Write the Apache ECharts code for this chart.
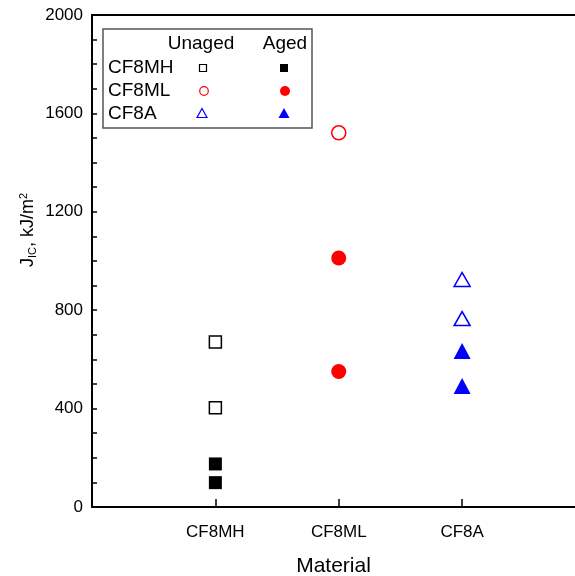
<!DOCTYPE html>
<html>
<head>
<meta charset="utf-8">
<script src="https://cdn.jsdelivr.net/npm/echarts@6/dist/echarts.min.js"></script>
<style>
  html, body { margin: 0; padding: 0; background: #fff; }
  #chart { width: 575px; height: 576px; }
</style>
</head>
<body>
<div id="chart"></div>
<script>
// Materials, placed at x = 1, 2, 3 on the category scale
const materials = ['CF8MH', 'CF8ML', 'CF8A'];

// J_IC values (kJ/m^2) per material, unaged and aged
const cf8mhUnaged = [671, 403];
const cf8mhAged = [175, 99];
const cf8mlUnaged = [1521];
const cf8mlAged = [1012, 551];
const cf8aUnaged = [925, 766];
const cf8aAged = [634, 492];

const yTicks = [0, 400, 800, 1200, 1600, 2000];

const FONT = 'Liberation Sans, Arial, Helvetica, sans-serif';

function pts(xIndex, values) {
  return values.map(v => [xIndex, v]);
}

const chart = echarts.init(document.getElementById('chart'), null, { renderer: 'canvas' });

const series = [
  { name: 'CF8MH Unaged', data: pts(1, cf8mhUnaged), symbol: 'rect', symbolSize: 12,
    itemStyle: { color: '#fff', borderColor: '#000', borderWidth: 1.5, opacity: 1 } },
  { name: 'CF8MH Aged', data: pts(1, cf8mhAged), symbol: 'rect', symbolSize: 13,
    itemStyle: { color: '#000', opacity: 1 } },
  { name: 'CF8ML Unaged', data: pts(2, cf8mlUnaged), symbol: 'circle', symbolSize: 14,
    itemStyle: { color: '#fff', borderColor: '#ff0000', borderWidth: 1.5, opacity: 1 } },
  { name: 'CF8ML Aged', data: pts(2, cf8mlAged), symbol: 'circle', symbolSize: 15,
    itemStyle: { color: '#ff0000', opacity: 1 } },
  { name: 'CF8A Unaged', data: pts(3, cf8aUnaged), symbol: 'triangle', symbolSize: [16, 14],
    itemStyle: { color: '#fff', borderColor: '#0000ff', borderWidth: 1.5, opacity: 1 } },
  { name: 'CF8A Aged', data: pts(3, cf8aAged), symbol: 'triangle', symbolSize: [17, 16],
    itemStyle: { color: '#0000ff', opacity: 1 } }
].map(s => Object.assign({ type: 'scatter', xAxisIndex: 0, z: 3, emphasis: { disabled: true } }, s));

// Legend table drawn as graphics: header row, material rows, unaged/aged markers
const legendRows = [
  { label: materials[0], y: 68 },
  { label: materials[1], y: 91 },
  { label: materials[2], y: 114 }
];
const legendFont = { fontFamily: FONT, fontSize: 19, fill: '#000' };
const colUnaged = 203, colAged = 284;

const graphics = [
  { type: 'rect', shape: { x: 103, y: 29, width: 209, height: 99 },
    style: { fill: '#fff', stroke: '#555', lineWidth: 1.5 }, z: 10 },
  { type: 'text', x: colUnaged - 2, y: 44, z: 11,
    style: Object.assign({ text: 'Unaged', align: 'center', verticalAlign: 'middle' }, legendFont) },
  { type: 'text', x: colAged + 1, y: 44, z: 11,
    style: Object.assign({ text: 'Aged', align: 'center', verticalAlign: 'middle' }, legendFont) }
];
legendRows.forEach(r => {
  graphics.push({ type: 'text', x: 108, y: r.y, z: 11,
    style: Object.assign({ text: r.label, align: 'left', verticalAlign: 'middle' }, legendFont) });
});
graphics.push(
  // CF8MH markers
  { type: 'rect', z: 11, shape: { x: colUnaged - 3.5, y: 68 - 3.5, width: 7, height: 7 },
    style: { fill: '#fff', stroke: '#000', lineWidth: 1.2 } },
  { type: 'rect', z: 11, shape: { x: colAged - 4, y: 68 - 4, width: 8, height: 8 },
    style: { fill: '#000' } },
  // CF8ML markers
  { type: 'circle', z: 11, shape: { cx: colUnaged + 1, cy: 91, r: 4.3 },
    style: { fill: '#fff', stroke: '#ff0000', lineWidth: 1.2 } },
  { type: 'circle', z: 11, shape: { cx: colAged + 1, cy: 91, r: 5 },
    style: { fill: '#ff0000' } },
  // CF8A markers
  { type: 'polygon', z: 11, shape: { points: [[colUnaged - 1, 108.5], [colUnaged + 4, 117.5], [colUnaged - 6, 117.5]] },
    style: { fill: '#fff', stroke: '#0000ff', lineWidth: 1.2 } },
  { type: 'polygon', z: 11, shape: { points: [[colAged, 108], [colAged + 5.5, 118], [colAged - 5.5, 118]] },
    style: { fill: '#0000ff' } }
);

// Rotated y-axis title with subscript and superscript
graphics.push({
  type: 'text', x: 28, y: 230, rotation: Math.PI / 2, z: 11,
  style: {
    text: 'J{sub|IC}, kJ/m{sup|2}',
    align: 'center', verticalAlign: 'middle',
    fontFamily: FONT, fontSize: 18, fill: '#000',
    rich: {
      sub: { fontFamily: FONT, fontSize: 11, fill: '#000', padding: [9, 0, 0, 0] },
      sup: { fontFamily: FONT, fontSize: 11, fill: '#000', padding: [0, 0, 9, 0] }
    }
  }
});

// The x scale runs 0..4 with categories at 1..3; the plot frame is wider than
// the page, so the visible part ends a little before x = 4.
const xMaxVisible = 3.915;

chart.setOption({
  animation: false,
  backgroundColor: '#fff',
  grid: { left: 92, top: 15, bottom: 69, right: 0, show: false, outerBoundsMode: 'none', containLabel: false },
  xAxis: [{
    type: 'value', min: 0, max: xMaxVisible, interval: 1,
    name: 'Material', nameLocation: 'middle', nameGap: 49,
    nameTextStyle: { fontFamily: FONT, fontSize: 21, color: '#000' },
    axisLine: { show: true, lineStyle: { color: '#000', width: 2 } },
    axisTick: { show: true, inside: true, length: 8, lineStyle: { color: '#000', width: 1.5 } },
    axisLabel: {
      margin: 17, fontFamily: FONT, fontSize: 17, color: '#000',
      showMaxLabel: false,
      formatter: v => (Number.isInteger(v) && v >= 1 && v <= materials.length ? materials[v - 1] : '')
    },
    splitLine: { show: false }
  }, {
    // top frame line
    type: 'value', position: 'top', min: 0, max: xMaxVisible,
    axisLine: { show: true, lineStyle: { color: '#000', width: 2 } },
    axisTick: { show: false }, axisLabel: { show: false }, splitLine: { show: false }
  }],
  yAxis: {
    type: 'value', min: yTicks[0], max: yTicks[yTicks.length - 1], interval: 400,
    axisLine: { show: true, lineStyle: { color: '#000', width: 2 } },
    axisTick: { show: true, inside: true, length: 5, lineStyle: { color: '#000', width: 1.5 } },
    minorTick: { show: true, splitNumber: 4, length: 5, lineStyle: { color: '#000', width: 1.5 } },
    axisLabel: { margin: 9, fontFamily: FONT, fontSize: 17, color: '#000', formatter: v => String(v) },
    splitLine: { show: false }
  },
  graphic: graphics,
  series: series
});
</script>
</body>
</html>
